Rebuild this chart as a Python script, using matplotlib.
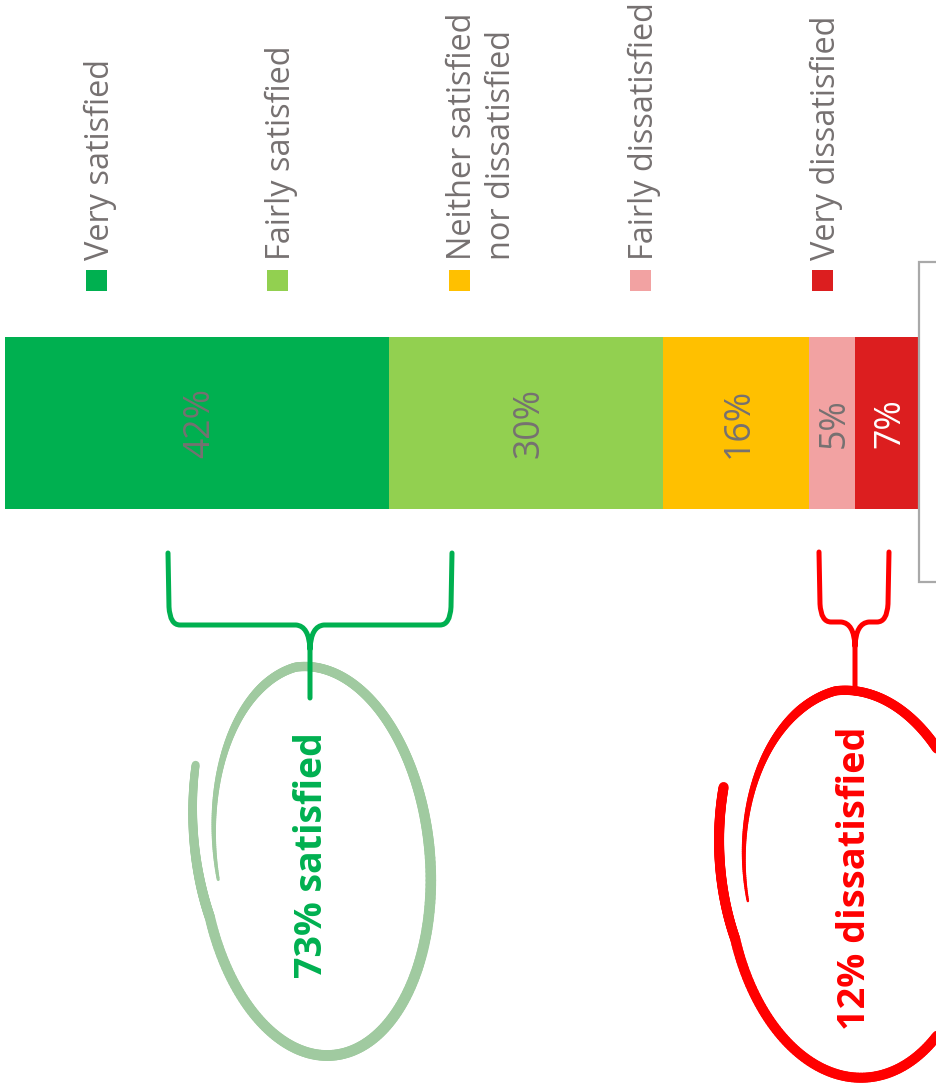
import numpy as np
import matplotlib
matplotlib.use("Agg")
import matplotlib.pyplot as plt
from matplotlib.path import Path
from matplotlib.patches import PathPatch, Rectangle
from matplotlib.collections import LineCollection
from matplotlib.transforms import ScaledTranslation

# ---------------- data ----------------
categories = ["Very satisfied", "Fairly satisfied",
              "Neither satisfied\nnor dissatisfied",
              "Fairly dissatisfied", "Very dissatisfied"]
values = [42, 30, 16, 5, 7]
value_labels = ["42%", "30%", "16%", "5%", "7%"]
colors = ["#00B050", "#92D050", "#FFC000", "#F2A2A2", "#DC1E1F"]
label_colors = ["#767171", "#767171", "#767171", "#767171", "#FFFFFF"]
summary_labels = ["73% satisfied", "12% dissatisfied"]
summary_colors = ["#00B050", "#FF0000"]

FONT = ["Open Sans", "DejaVu Sans"]
GRAY = "#767171"
W, H = 937, 1091

fig = plt.figure(figsize=(W / 100, H / 100), dpi=100)
renderer = fig.canvas.get_renderer()


def px_rect(x0, y0, x1, y1):
    return [x0 / W, 1 - y1 / H, (x1 - x0) / W, (y1 - y0) / H]


def fit_len(t, target):
    bb = t.get_window_extent(renderer)
    t.set_fontsize(t.get_fontsize() * target / bb.height)


# ---------------- stacked bar ----------------
ax = fig.add_axes(px_rect(5, 337, 919, 509))
left = np.concatenate([[0], np.cumsum(values)[:-1]])
ax.barh(0, values, left=left, color=colors, height=1.0, edgecolor="none")
ax.set_xlim(0, sum(values))
ax.set_ylim(-0.5, 0.5)
ax.axis("off")

shift = ax.transData + ScaledTranslation(3 / 100, 0, fig.dpi_scale_trans)
num_texts = []
for v, l, lab, c in zip(values, left, value_labels, label_colors):
    t = ax.text(l + v / 2, 0, lab, rotation=90, ha="center", va="center",
                color=c, fontsize=28, family=FONT, transform=shift)
    num_texts.append(t)
fit_len(num_texts[0], 70)
for t in num_texts[1:]:
    t.set_fontsize(num_texts[0].get_fontsize())

# ---------------- overlay (pixel coords) ----------------
ov = fig.add_axes([0, 0, 1, 1])
ov.set_xlim(0, W)
ov.set_ylim(H, 0)
ov.axis("off")

# legend
leg_texts = []
for i, (cat, col) in enumerate(zip(categories, colors)):
    xl = 86 + 181.5 * i
    ov.add_patch(Rectangle((xl, 270), 21, 21, facecolor=col, edgecolor="none"))
    t = ov.text(xl - 2.5, 260, cat, rotation=90, ha="left", va="bottom",
                multialignment="left", linespacing=1.22, color=GRAY,
                fontsize=26, family=FONT)
    leg_texts.append(t)
fit_len(leg_texts[0], 202)
for t in leg_texts[1:]:
    t.set_fontsize(leg_texts[0].get_fontsize())

# partial gray frame at right
ov.plot([945, 919, 919, 945], [262, 262, 582, 582], color="#A9A9A9",
        lw=1.6, solid_joinstyle="miter")


# hand-drawn loops
def scribble(cx, cy, a, b, tilt_deg, th_k, r_k, w_k, color, z, n=500):
    s = np.linspace(0, 1, n)
    sk = np.linspace(0, 1, len(th_k))
    th = np.interp(s, sk, th_k)
    r = np.interp(s, sk, r_k)
    w = np.interp(s, np.linspace(0, 1, len(w_k)), w_k)
    dx = r * a * np.cos(th)
    dy = r * b * np.sin(th)
    p = np.deg2rad(tilt_deg)
    x = cx + dx * np.cos(p) - dy * np.sin(p)
    y = cy + dx * np.sin(p) + dy * np.cos(p)
    pts = np.column_stack([x, y]).reshape(-1, 1, 2)
    segs = np.concatenate([pts[:-1], pts[1:]], axis=1)
    lc = LineCollection(segs, linewidths=w[:-1] * 0.72, colors=color,
                        capstyle="round", joinstyle="round", zorder=z)
    ov.add_collection(lc)


scribble(316, 861, 114, 195, -5,
         [3.65, 2.9, 0.0, -1.6, -3.2], [1.12, 1.0, 1.0, 1.0, 0.87],
         [8, 10, 11, 10, 9, 3], "#A0CAA0", 2)
scribble(853, 884, 125, 194, -4,
         [3.65, 2.9, 0.0, -1.6, -3.2], [1.12, 1.0, 1.0, 1.0, 0.85],
         [10, 10, 10, 10, 9, 2.5], "#FF0000", 2)


# braces
def brace(xl, xr, xc, ytop, yh, ybot, color):
    verts = [(xl, ytop), (xl + 1, yh - 18), (xl + 2, yh), (xl + 12, yh),
             (xc - 14, yh), (xc - 1, yh + 1), (xc, yh + 24), (xc, ybot),
             (xr, ytop), (xr - 1, yh - 18), (xr - 2, yh), (xr - 12, yh),
             (xc + 14, yh), (xc + 1, yh + 1), (xc, yh + 24)]
    codes = [Path.MOVETO, Path.LINETO, Path.CURVE3, Path.CURVE3,
             Path.LINETO, Path.CURVE3, Path.CURVE3, Path.LINETO,
             Path.MOVETO, Path.LINETO, Path.CURVE3, Path.CURVE3,
             Path.LINETO, Path.CURVE3, Path.CURVE3]
    ov.add_patch(PathPatch(Path(verts, codes), facecolor="none",
                           edgecolor=color, lw=3.6, capstyle="round",
                           joinstyle="round", zorder=3))


brace(168, 452, 310, 553, 625, 698, "#00B050")
brace(819, 889, 855, 552, 622, 693, "#FF0000")

# summary labels
t1 = ov.text(312, 855, summary_labels[0], rotation=90, ha="center",
             va="center", color=summary_colors[0], fontsize=32,
             fontweight="bold", family=FONT, zorder=4)
fit_len(t1, 246)
t2 = ov.text(855, 878, summary_labels[1], rotation=90, ha="center",
             va="center", color=summary_colors[1], fontsize=32,
             fontweight="bold", family=FONT, zorder=4)
fit_len(t2, 303)

fig.savefig("out.png", dpi=100, facecolor="white")
